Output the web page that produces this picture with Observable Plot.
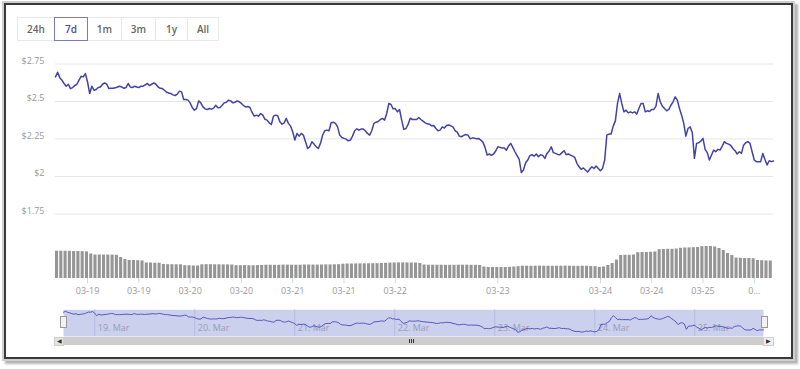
<!DOCTYPE html>
<html><head><meta charset="utf-8">
<script src="https://cdn.jsdelivr.net/npm/d3@7"></script>
<script src="https://cdn.jsdelivr.net/npm/@observablehq/plot@0.6"></script>
<style>
body{margin:0;background:#fff;font-family:"Open Sans",sans-serif;}
#wrap{position:relative;width:800px;height:369px;overflow:hidden;background:#fff;}
.frame{position:absolute;left:4px;top:3px;width:785px;height:352px;border:2px solid #3a3a3a;box-shadow:0 0 0 2px #cfcfcf,3px 3px 2px 2px #b4b4b4;}
.btn{position:absolute;top:17px;height:22px;line-height:22px;border:1px solid #e8e8e8;box-sizing:content-box;text-align:center;font-size:10px;font-weight:600;color:#666;background:#fff;}
.btn.sel{border-color:#7b7bc0;color:#4a4aa8;z-index:2;}
.layer{position:absolute;left:0;}
</style></head>
<body><div id="wrap"><div class="frame"></div></div>
<script>
const startUTC = Date.UTC(2019, 2, 18, 16, 30);
const HOUR = 3600e3;
const PRICE_STEP = HOUR / 2;

const rangeButtons = ["24h", "7d", "1m", "3m", "1y", "All"];
const selectedButton = "7d";

// price (USD), one value every 30 minutes
const prices = [
2.664,2.695,2.659,2.642,2.620,2.602,2.615,2.586,2.593,2.606,
2.615,2.642,2.668,2.664,2.686,2.630,2.553,2.602,2.575,2.580,
2.593,2.597,2.615,2.624,2.615,2.586,2.588,2.588,2.591,2.597,
2.602,2.597,2.588,2.593,2.620,2.597,2.593,2.602,2.597,2.593,
2.602,2.602,2.611,2.620,2.606,2.615,2.624,2.615,2.597,2.588,
2.586,2.575,2.562,2.557,2.553,2.544,2.540,2.549,2.569,2.564,
2.513,2.513,2.509,2.491,2.460,2.442,2.453,2.504,2.491,2.464,
2.451,2.447,2.453,2.449,2.456,2.475,2.458,2.460,2.475,2.491,
2.495,2.509,2.504,2.491,2.495,2.504,2.498,2.487,2.473,2.464,
2.467,2.460,2.427,2.402,2.409,2.402,2.420,2.409,2.382,2.376,
2.358,2.347,2.402,2.409,2.405,2.365,2.349,2.358,2.387,2.354,
2.336,2.298,2.243,2.287,2.269,2.287,2.276,2.232,2.187,2.198,
2.232,2.216,2.198,2.187,2.221,2.276,2.305,2.309,2.305,2.358,
2.362,2.354,2.331,2.276,2.260,2.254,2.249,2.238,2.243,2.269,
2.305,2.318,2.309,2.316,2.316,2.305,2.287,2.276,2.305,2.354,
2.362,2.367,2.380,2.387,2.376,2.420,2.487,2.480,2.451,2.453,
2.431,2.447,2.376,2.314,2.320,2.347,2.389,2.380,2.380,2.380,
2.393,2.380,2.369,2.358,2.351,2.349,2.338,2.340,2.320,2.305,
2.309,2.331,2.323,2.340,2.343,2.338,2.331,2.305,2.296,2.269,
2.265,2.274,2.280,2.276,2.252,2.256,2.256,2.252,2.254,2.243,
2.229,2.194,2.143,2.150,2.141,2.150,2.170,2.198,2.194,2.190,
2.190,2.176,2.203,2.221,2.194,2.165,2.139,2.114,2.026,2.043,
2.092,2.110,2.139,2.145,2.136,2.150,2.132,2.145,2.141,2.121,
2.154,2.170,2.198,2.159,2.154,2.147,2.145,2.159,2.172,2.145,
2.150,2.143,2.136,2.127,2.088,2.065,2.048,2.057,2.043,2.030,
2.048,2.065,2.054,2.070,2.054,2.039,2.054,2.110,2.276,2.283,
2.283,2.336,2.371,2.487,2.553,2.487,2.431,2.442,2.424,2.431,
2.424,2.431,2.416,2.453,2.487,2.487,2.431,2.438,2.433,2.447,
2.447,2.469,2.553,2.498,2.469,2.453,2.438,2.447,2.475,2.498,
2.531,2.509,2.453,2.409,2.354,2.269,2.320,2.331,2.292,2.121,
2.221,2.225,2.236,2.254,2.181,2.159,2.110,2.143,2.176,2.165,
2.181,2.176,2.203,2.232,2.221,2.216,2.207,2.187,2.172,2.150,
2.165,2.154,2.209,2.225,2.232,2.221,2.165,2.110,2.099,2.099,
2.099,2.154,2.114,2.077,2.105,2.099,2.103];

// hourly volume (relative units)
const volumes = [
27.3,27.3,27.2,27.2,27.0,27.0,26.8,26.6,
24.5,
23.5,23.5,23.4,23.4,23.4,23.2,
21,19,
18,18,17.8,17.6,
15.5,15.5,15.3,15.3,
14,13.8,13.8,13.7,13.7,
12.8,12.8,12.5,12.5,
13.7,13.8,13.8,13.7,13.7,13.6,13.6,13.5,
12.8,12.8,12.9,12.8,12.8,12.9,13.0,
13.3,13.3,13.2,13.2,13.4,13.4,13.3,13.3,13.3,13.5,13.5,13.4,13.4,13.5,13.6,13.6,13.7,13.8,
14.3,14.5,14.5,14.6,14.6,14.7,14.7,14.8,14.8,15.0,15.2,15.4,15.5,
15.6,15.6,15.6,15.5,15.4,15.0,
13.5,13.3,13.3,13.3,13.3,13.2,13.2,13.2,13.3,13.3,13.3,13.2,13.2,13.0,
11.5,11,11,11,11,11,11.2,11.5,11.8,
12.3,12.3,12.2,12.3,12.4,12.3,12.3,12.2,12.3,12.3,12.4,12.3,12.2,12.2,12.3,12.2,12.0,11.8,
11.2,11.5,
13,15,18.5,
23,23.2,23.2,23.5,
25.8,26,26,26.2,26.5,
28.8,29,29.2,29.2,29.5,
30.2,30.5,30.6,30.8,31,
31.8,32,32,31.5,
30,28,
25,23,
20.5,20.2,20,20,19.8,
18,17.8,17.6,17.5];

const yTicks = [1.75, 2, 2.25, 2.5, 2.75];
const yTickLabels = ["$1.75", "$2", "$2.25", "$2.5", "$2.75"];

const xTickDates = [
 [2019,2,19,0],[2019,2,19,12],[2019,2,20,0],[2019,2,20,12],[2019,2,21,0],[2019,2,21,12],
 [2019,2,22,0],[2019,2,23,0],[2019,2,24,0],[2019,2,24,12],[2019,2,25,0],[2019,2,25,12]
].map(([y,m,d,h]) => new Date(Date.UTC(y,m,d,h)));
const xTickLabels = ["03-19","03-19","03-20","03-20","03-21","03-21","03-22","03-23","03-24","03-24","03-25","0…"];

const navDays = [19,20,21,22,23,24,25].map(d => new Date(Date.UTC(2019,2,d)));
const navDayLabels = ["19. Mar","20. Mar","21. Mar","22. Mar","23. Mar","24. Mar","25. Mar"];

const t0 = new Date(startUTC);
const t1 = new Date(startUTC + 168 * HOUR);
const priceData = prices.map((p, i) => ({date: new Date(startUTC + i * PRICE_STEP), price: p}));
const volData = volumes.map((v, i) => ({start: new Date(startUTC + i * HOUR), end: new Date(startUTC + (i + 1) * HOUR), volume: v}));

const wrap = document.getElementById("wrap");

// range buttons
const btnLefts = [17, 54, 87, 121, 155, 187];
const btnWidths = [36, 32, 33, 33, 31, 30];
rangeButtons.forEach((b, i) => {
  const el = document.createElement("div");
  el.className = "btn" + (b === selectedButton ? " sel" : "");
  el.style.left = btnLefts[i] + "px";
  el.style.width = btnWidths[i] + "px";
  el.textContent = b;
  wrap.appendChild(el);
});

const baseStyle = {fontFamily: "Open Sans", fontSize: "9px", color: "#999", background: "transparent", overflow: "visible"};

const pricePlot = Plot.plot({
  width: 800, height: 170,
  marginLeft: 55, marginRight: 27, marginTop: 13.5, marginBottom: 6.5,
  style: baseStyle,
  x: {type: "utc", domain: [t0, t1], axis: null},
  y: {domain: [1.75, 2.75], axis: null},
  marks: [
    Plot.ruleY(yTicks, {stroke: "#e6e6e6"}),
    Plot.axisY(yTicks, {tickSize: 0, tickPadding: 11, dy: -3, label: null,
      tickFormat: d => yTickLabels[yTicks.indexOf(d)], fontSize: 9}),
    Plot.line(priceData, {x: "date", y: "price", stroke: "#4242aa", strokeWidth: 1.5, strokeLinejoin: "round"})
  ]
});
pricePlot.classList.add("layer");
pricePlot.style.top = "50px";
wrap.appendChild(pricePlot);

const volPlot = Plot.plot({
  width: 800, height: 60,
  marginLeft: 55, marginRight: 27, marginTop: 6, marginBottom: 22,
  style: baseStyle,
  x: {type: "utc", domain: [t0, t1]},
  y: {domain: [0, 32], axis: null},
  marks: [
    Plot.rectY(volData, {x1: "start", x2: "end", y: "volume", fill: "#959595", insetRight: 1.2}),
    Plot.axisX(xTickDates, {tickSize: 5, tickPadding: 4, stroke: "#ccd6eb", label: null,
      tickFormat: (d, i) => xTickLabels[i], fontSize: 9})
  ]
});
volPlot.classList.add("layer");
volPlot.style.top = "240px";
wrap.appendChild(volPlot);

const navPlot = Plot.plot({
  width: 800, height: 35,
  marginLeft: 63, marginRight: 37, marginTop: 4.3, marginBottom: 4,
  style: baseStyle,
  x: {type: "utc", domain: [t0, t1], axis: null},
  y: {domain: [1.893, 2.74], axis: null},
  marks: [
    Plot.frame({fill: "#cbd0ed", stroke: null}),
    Plot.ruleX(navDays, {stroke: "#b6bcdf"}),
    Plot.text(navDays, {x: d => d, text: (d, i) => navDayLabels[i], frameAnchor: "bottom",
      textAnchor: "start", dx: 3, dy: -5.3, fill: "#9a9cb6", fontSize: 9}),
    Plot.line(priceData, {x: "date", y: "price", stroke: "#5656c2", strokeWidth: 1})
  ]
});
navPlot.classList.add("layer");
navPlot.style.top = "305px";
wrap.appendChild(navPlot);

// scrollbar + handles
function box(css, text) {
  const el = document.createElement("div");
  el.style.cssText = "position:absolute;" + css;
  if (text) el.textContent = text;
  wrap.appendChild(el);
  return el;
}
box("left:54px;top:337px;width:719px;height:8px;background:#cdcdcd;");
box("left:54px;top:337px;width:8px;height:7px;background:#e2e2e2;border:1px solid #cfcfcf;font-size:6px;line-height:7px;text-align:center;color:#333;", "◀");
box("left:763px;top:337px;width:9px;height:7px;background:#f0f0f0;border:1px solid #cfcfcf;font-size:6px;line-height:7px;text-align:center;color:#333;", "▶");
[409, 411, 413].forEach(x => box("left:" + x + "px;top:339px;width:1px;height:4px;background:#333;"));
box("left:60px;top:316px;width:5px;height:10px;background:#f2f2f2;border:1px solid #999;");
box("left:761px;top:316px;width:5px;height:10px;background:#f2f2f2;border:1px solid #999;");
</script>
</body></html>
